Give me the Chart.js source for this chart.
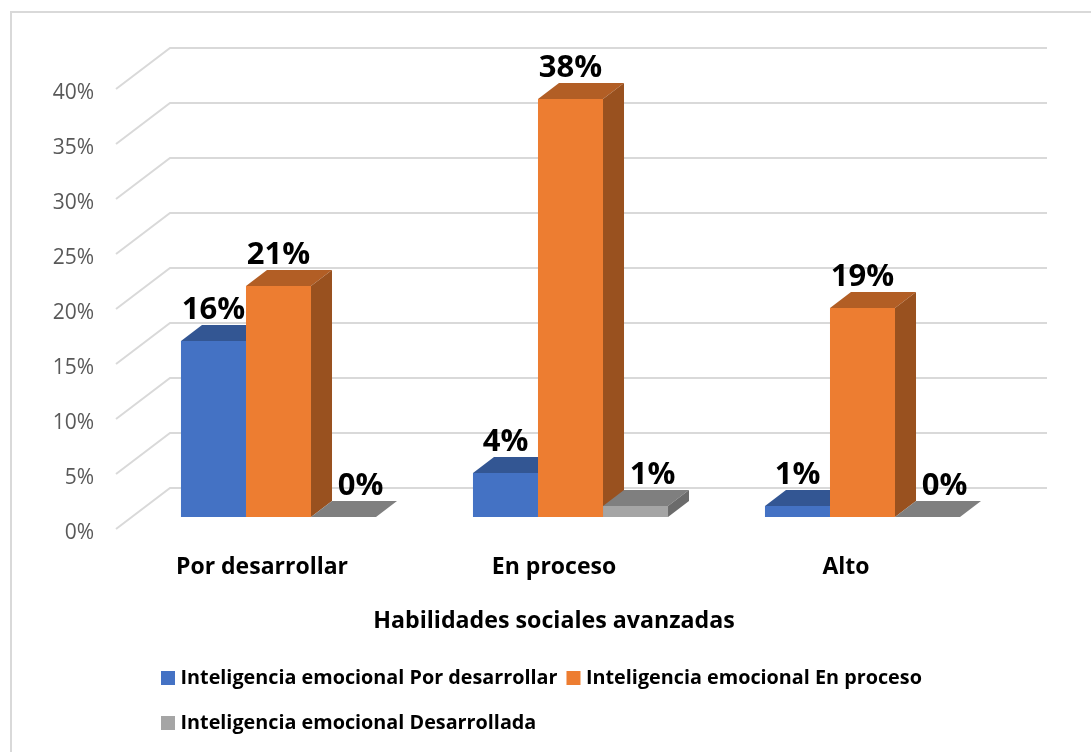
<!DOCTYPE html>
<html><head><meta charset="utf-8">
<style>html,body{margin:0;padding:0;background:#fff}canvas{display:block}</style>
<script src="https://cdn.jsdelivr.net/npm/chart.js@4"></script>
</head><body>
<div style="width:1091px;height:752px;position:relative"><canvas id="c" width="1091" height="752"></canvas></div>
<script>
const categories = ['Por desarrollar','En proceso','Alto'];
const seriesNames = ['Inteligencia emocional Por desarrollar','Inteligencia emocional En proceso','Inteligencia emocional Desarrollada'];
const seriesPorDesarrollar = [16,4,1];
const seriesEnProceso = [21,38,19];
const seriesDesarrollada = [0,1,0];
const frontColors = ['#4472C4','#ED7D31','#A5A5A5'];
const topColors = ['#335693','#B25E25','#7F7F7F'];
const sideColors = ['#2C4A80','#99511F','#6B6B6B'];
const axisTitle = 'Habilidades sociales avanzadas';
const FONT = '"Open Sans"';
const BOLD = 'bold ';
const DX = 21, DY = -16, WALLX = 54, WALLY = -41, SHIFTX = 16.5, SHIFTY = -12;

const faces3d = {
  id:'faces3d',
  beforeDraw(chart){
    const {ctx}=chart;
    ctx.save();
    ctx.strokeStyle='#D9D9D9';ctx.lineWidth=2;
    ctx.beginPath();ctx.moveTo(11,752);ctx.lineTo(11,12);ctx.lineTo(1091,12);ctx.stroke();
    ctx.restore();
  },
  beforeDatasetsDraw(chart){
    const {ctx,scales:{y},chartArea:a}=chart;
    ctx.save();
    ctx.strokeStyle='#D9D9D9';ctx.lineWidth=2;
    y.ticks.forEach(t=>{
      const py=y.getPixelForValue(t.value);
      ctx.beginPath();ctx.moveTo(a.left,py);ctx.lineTo(a.left+WALLX,py+WALLY);ctx.lineTo(a.right+WALLX+1,py+WALLY);ctx.stroke();
    });
    ctx.translate(SHIFTX,SHIFTY);
    chart.data.datasets.forEach((d,i)=>{
      chart.getDatasetMeta(i).data.forEach(b=>{
        const p=b.getProps(['x','y','base','width'],true);
        const l=p.x-p.width/2,r=p.x+p.width/2;
        ctx.fillStyle=topColors[i];
        ctx.beginPath();ctx.moveTo(l,p.y);ctx.lineTo(l+DX,p.y+DY);ctx.lineTo(r+DX,p.y+DY);ctx.lineTo(r,p.y);ctx.closePath();ctx.fill();
        ctx.fillStyle=sideColors[i];
        ctx.beginPath();ctx.moveTo(r,p.y);ctx.lineTo(r+DX,p.y+DY);ctx.lineTo(r+DX,p.base+DY);ctx.lineTo(r,p.base);ctx.closePath();ctx.fill();
      });
    });
    ctx.restore();
    ctx.save();
    ctx.translate(SHIFTX,SHIFTY);
  },
  afterDatasetsDraw(chart){
    const {ctx}=chart;
    ctx.restore();
    ctx.save();
    ctx.translate(SHIFTX,SHIFTY);
    ctx.font=BOLD+'31px '+FONT;ctx.fillStyle='#000';ctx.textAlign='center';ctx.textBaseline='middle';
    chart.data.datasets.forEach((d,i)=>{
      chart.getDatasetMeta(i).data.forEach((b,j)=>{
        const p=b.getProps(['x','y'],true);
        ctx.fillText(d.data[j]+'%',p.x+(i===2?17:0),p.y-31);
      });
    });
    ctx.restore();
    ctx.save();
    ctx.font=BOLD+'19.8px '+FONT;ctx.textBaseline='middle';ctx.textAlign='left';
    const rows=[[0,1],[2]];
    rows.forEach((row,ri)=>{
      let x=161;const cy=678+ri*45;
      row.forEach(i=>{
        ctx.fillStyle=frontColors[i];ctx.fillRect(x,cy-7,14,14);
        ctx.fillStyle='#000';ctx.fillText(seriesNames[i],x+19.5,cy);
        x+=19.5+ctx.measureText(seriesNames[i]).width+9;
      });
    });
    ctx.restore();
  }
};

new Chart(document.getElementById('c'),{
  type:'bar',
  data:{labels:categories,datasets:[
    {label:seriesNames[0],data:seriesPorDesarrollar,backgroundColor:frontColors[0]},
    {label:seriesNames[1],data:seriesEnProceso,backgroundColor:frontColors[1]},
    {label:seriesNames[2],data:seriesDesarrollada,backgroundColor:frontColors[2]}
  ]},
  options:{
    responsive:false,animation:false,
    layout:{padding:{top:89,left:0,right:99,bottom:117}},
    datasets:{bar:{categoryPercentage:0.668,barPercentage:1}},
    plugins:{legend:{display:false},title:{display:false},tooltip:{enabled:false}},
    scales:{
      x:{
        grid:{display:false},border:{display:false},
        ticks:{color:'#000',font:{family:FONT,size:23,weight:'bold'},padding:17,maxRotation:0},
        title:{display:true,text:axisTitle,color:'#000',font:{family:FONT,size:23.2,weight:'bold'},padding:{top:26,bottom:0}},
        afterFit(s){s.height=106;}
      },
      y:{
        min:0,max:40,
        grid:{display:false},border:{display:false},
        ticks:{stepSize:5,color:'#595959',font:{family:FONT,size:21},padding:14,labelOffset:4,callback:v=>v+'%'},
        afterFit(s){s.width=116;}
      }
    }
  },
  plugins:[faces3d]
});
</script>
</body></html>
